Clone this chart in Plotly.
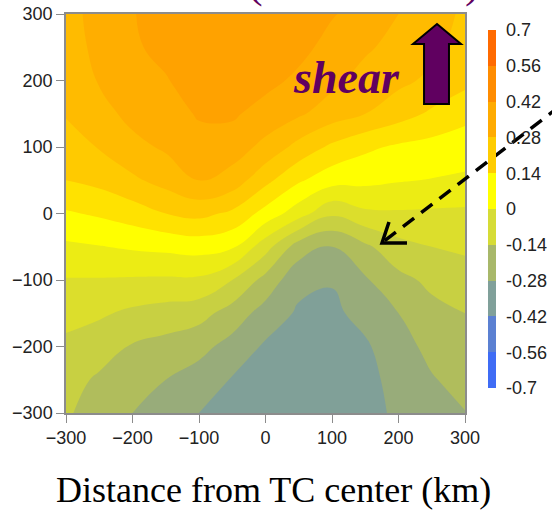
import plotly.graph_objects as go

# ---------------- data ----------------
x_km = [-300, -250, -200, -150, -100, -50, 0, 50, 100, 150, 200, 250, 300]
y_km = [300, 250, 200, 150, 100, 50, 0, -50, -100, -150, -200, -250, -300]

row_p300 = [0.25, 0.31, 0.345, 0.39, 0.405, 0.41, 0.405, 0.39, 0.355, 0.325, 0.28, 0.235, 0.20]
row_p250 = [0.245, 0.30, 0.34, 0.37, 0.40, 0.405, 0.395, 0.37, 0.327, 0.292, 0.253, 0.225, 0.185]
row_p200 = [0.235, 0.285, 0.325, 0.345, 0.385, 0.39, 0.37, 0.336, 0.298, 0.251, 0.226, 0.196, 0.16]
row_p150 = [0.215, 0.255, 0.30, 0.315, 0.358, 0.36, 0.323, 0.29, 0.245, 0.21, 0.17, 0.128, 0.09]
row_p100 = [0.18, 0.214, 0.26, 0.29, 0.32, 0.315, 0.26, 0.187, 0.126, 0.084, 0.059, 0.046, 0.036]
row_p050 = [0.14, 0.16, 0.197, 0.236, 0.28, 0.25, 0.16, 0.08, 0.028, 0.018, 0.005, -0.003, -0.013]
row_000 = [0.062, 0.08, 0.105, 0.14, 0.16, 0.126, 0.045, -0.039, -0.128, -0.084, -0.079, -0.082, -0.084]
row_m050 = [-0.013, -0.003, 0.009, 0.018, 0.028, 0.01, -0.112, -0.245, -0.285, -0.224, -0.163, -0.14, -0.129]
row_m100 = [-0.074, -0.075, -0.078, -0.08, -0.082, -0.14, -0.234, -0.33, -0.345, -0.288, -0.23, -0.194, -0.17]
row_m150 = [-0.118, -0.13, -0.154, -0.17, -0.184, -0.241, -0.309, -0.36, -0.365, -0.327, -0.28, -0.231, -0.21]
row_m200 = [-0.155, -0.18, -0.216, -0.233, -0.259, -0.305, -0.36, -0.385, -0.385, -0.36, -0.305, -0.262, -0.234]
row_m250 = [-0.185, -0.22, -0.25, -0.28, -0.31, -0.355, -0.385, -0.40, -0.395, -0.372, -0.325, -0.285, -0.258]
row_m300 = [-0.20, -0.245, -0.28, -0.315, -0.35, -0.375, -0.395, -0.405, -0.40, -0.378, -0.335, -0.30, -0.282]

z_vals = [row_p300, row_p250, row_p200, row_p150, row_p100, row_p050, row_000,
          row_m050, row_m100, row_m150, row_m200, row_m250, row_m300]

cbar_ticks = [0.7, 0.56, 0.42, 0.28, 0.14, 0, -0.14, -0.28, -0.42, -0.56, -0.7]
cbar_labels = ["0.7", "0.56", "0.42", "0.28", "0.14", "0", "-0.14", "-0.28", "-0.42", "-0.56", "-0.7"]
x_ticks = [-300, -200, -100, 0, 100, 200, 300]
y_ticks = [-300, -200, -100, 0, 100, 200, 300]

# ---------------- styling ----------------
LEV_START, LEV_END, LEV_SIZE = -0.7, 0.7, 0.07
band_colors = ["#3d6bff", "#4a74ee", "#5a80d8", "#6c8fbc", "#80a098", "#98ac7a",
               "#b0bd5c", "#c8d042", "#dcde2c", "#ecec14", "#ffff00", "#ffe200",
               "#ffca00", "#ffbb00", "#ffae00", "#ffa200", "#ff9600", "#ff8a00",
               "#ff7a00", "#ff6a00"]
nc = 21
span = nc * LEV_SIZE
lo = LEV_START - LEV_SIZE / 2
cscale = [[0.0, band_colors[0]]]
for k, c in enumerate(band_colors):
    zmid = LEV_START + (k + 0.5) * LEV_SIZE
    cscale.append([(zmid - lo) / span, c])
cscale.append([1.0, band_colors[-1]])

cb_colors = ["#3f6cf5", "#5b80d2", "#80a09a", "#a8b86a", "#d6dc36",
             "#ffff00", "#ffcc00", "#ffab00", "#ff8c00", "#ff6a00"]
cb_scale = []
for i, c in enumerate(cb_colors):
    cb_scale.append([i / 10, c])
    cb_scale.append([(i + 1) / 10, c])

purple = "#600060"
tickfont = dict(family="Liberation Sans, Arial", size=18, color="#222222")

fig = go.Figure()
fig.add_trace(go.Contour(
    x=x_km, y=y_km, z=z_vals,
    autocontour=False,
    contours=dict(start=LEV_START, end=LEV_END, size=LEV_SIZE, coloring="fill", showlines=False),
    line=dict(width=0, smoothing=1.3),
    colorscale=cscale, showscale=False, hoverinfo="skip",
))
fig.add_trace(go.Scatter(
    x=[None], y=[None], mode="markers", showlegend=False, hoverinfo="skip",
    marker=dict(color=[0], colorscale=cb_scale, cmin=-0.7, cmax=0.7, showscale=True,
                colorbar=dict(x=1.058, xanchor="left", y=0.511, yanchor="middle",
                              lenmode="pixels", len=358, thickness=8, xpad=0, ypad=0,
                              outlinewidth=0, tickvals=cbar_ticks, ticktext=cbar_labels,
                              ticks="outside", ticklen=7, tickcolor="rgba(0,0,0,0)",
                              tickfont=tickfont)),
))

axis_common = dict(showgrid=False, zeroline=False, showline=True, mirror=True,
                   linecolor="#8c8c8c", linewidth=1.5, ticks="outside", ticklen=8,
                   tickcolor="#8c8c8c", tickwidth=1, tickfont=tickfont, automargin=False)
fig.update_xaxes(range=[-300, 300], tickvals=x_ticks, **axis_common)
fig.update_yaxes(range=[-300, 300], tickvals=y_ticks, **axis_common)

# purple block arrow ("shear" direction)
fig.add_shape(type="path",
              path="M 257.9,285 L 294.0,254.9 L 275.9,254.9 L 275.9,164.7 L 238.4,164.7 L 238.4,254.9 L 221.8,254.9 Z",
              xref="x", yref="y", fillcolor=purple, line=dict(color="black", width=2))
# dashed pointer arrow
fig.add_shape(type="line", xref="paper", yref="paper", x0=1.2381, y0=0.7694, x1=0.7945, y1=0.4286,
              line=dict(color="black", width=3.5, dash="14px,9px"))
fig.add_shape(type="path", xref="paper", yref="paper",
              path="M 0.8095,0.4787 L 0.7920,0.4261 L 0.8546,0.4261",
              line=dict(color="black", width=3.5))

annotations = [
    dict(text="<b><i>shear</i></b>", x=0.702, y=0.8396, xref="paper", yref="paper",
         xanchor="center", yanchor="middle", showarrow=False,
         font=dict(family="Liberation Serif, Times New Roman", size=46, color=purple)),
    dict(text="Distance from TC center (km)", x=0.52, y=-0.193, xref="paper", yref="paper",
         xanchor="center", yanchor="middle", showarrow=False,
         font=dict(family="Liberation Serif, Times New Roman", size=36, color="black")),
    dict(text="(", x=(255 - 66) / 399, y=1.012, xref="paper", yref="paper",
         xanchor="center", yanchor="bottom", showarrow=False,
         font=dict(family="Liberation Serif, Times New Roman", size=44, color=purple)),
    dict(text=")", x=(472 - 66) / 399, y=1.012, xref="paper", yref="paper",
         xanchor="center", yanchor="bottom", showarrow=False,
         font=dict(family="Liberation Serif, Times New Roman", size=44, color=purple)),
]
fig.update_layout(
    width=552, height=512,
    margin=dict(l=66, r=87, t=14, b=99, autoexpand=False),
    paper_bgcolor="white", plot_bgcolor="white",
    showlegend=False, annotations=annotations,
)
fig.write_html("out.html", config={"displayModeBar": False},
               post_script="document.body.style.margin='0px';document.body.style.overflow='hidden';")
